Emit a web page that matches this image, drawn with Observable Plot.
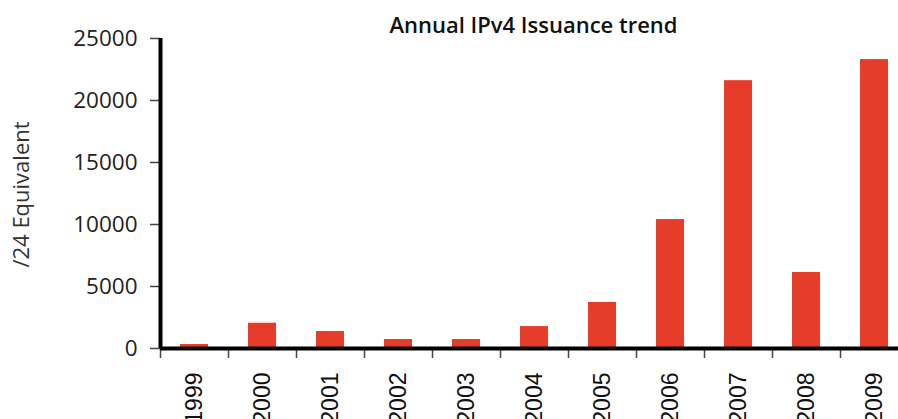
<!DOCTYPE html>
<html>
<head>
<meta charset="utf-8">
<script src="https://cdn.jsdelivr.net/npm/d3@7"></script>
<script src="https://cdn.jsdelivr.net/npm/@observablehq/plot@0.6"></script>
<style>
  html, body { margin: 0; padding: 0; background: #fff; }
</style>
</head>
<body>
<div id="chart"></div>
<script>
const title = "Annual IPv4 Issuance trend";
const yLabel = "/24 Equivalent";
const years = [1999, 2000, 2001, 2002, 2003, 2004, 2005, 2006, 2007, 2008, 2009];
const values = [320, 2040, 1370, 725, 725, 1770, 3710, 10400, 21600, 6130, 23300];
const yTicks = [0, 5000, 10000, 15000, 20000, 25000];

const data = years.map((year, i) => ({year, value: values[i]}));
const boundaries = years.map(y => y - 0.5);

const chart = Plot.plot({
  width: 898,
  height: 419,
  marginLeft: 160,
  marginRight: 0,
  marginTop: 38,
  marginBottom: 71,
  x: {type: "linear", domain: [1998.5, 1998.5 + 738 / 68]},
  y: {domain: [0, 25000]},
  marks: [
    Plot.rectY(data, {
      x1: d => d.year - 0.5,
      x2: d => d.year + 0.5,
      y: "value",
      insetLeft: 20,
      insetRight: 20,
      fill: "#e63d2a"
    }),
    Plot.axisX({
      ticks: boundaries,
      tickFormat: () => "",
      tickSize: 10,
      stroke: "#444",
      strokeWidth: 1.5,
      label: null
    }),
    Plot.axisX({
      ticks: years,
      tickFormat: d => String(d),
      tickSize: 0,
      tickRotate: -90,
      tickPadding: 24,
      fontSize: 23,
      fontFamily: "Liberation Sans, Arial, sans-serif",
      fill: "#111",
      label: null
    }),
    Plot.axisY({
      ticks: yTicks,
      tickFormat: d => String(d),
      tickSize: 10,
      tickPadding: 13,
      stroke: "#444",
      strokeWidth: 1.5,
      fontSize: 22.5,
      fontFamily: "Open Sans, sans-serif",
      fill: "#222",
      label: null
    }),
    Plot.ruleY([0], {stroke: "#000", strokeWidth: 4}),
    Plot.ruleX([1998.5], {y1: 0, y2: 25000, stroke: "#000", strokeWidth: 4}),
    Plot.text([yLabel], {
      text: d => d,
      frameAnchor: "left",
      textAnchor: "middle",
      dx: -139,
      dy: 1,
      rotate: -90,
      fontSize: 22,
      fontFamily: "Open Sans, sans-serif",
      fill: "#333"
    }),
    Plot.text([title], {
      text: d => d,
      frameAnchor: "top",
      lineAnchor: "bottom",
      dx: 4,
      dy: -6,
      fontSize: 22,
      fontWeight: 600,
      fontFamily: "Open Sans, sans-serif",
      fill: "#111"
    })
  ]
});
document.getElementById("chart").appendChild(chart);
</script>
</body>
</html>
